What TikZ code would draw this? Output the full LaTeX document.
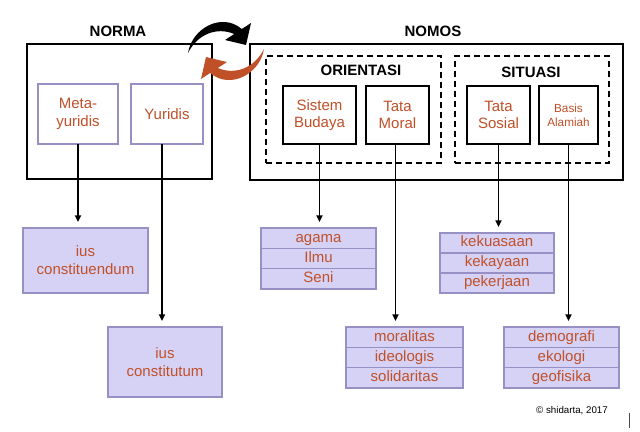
\documentclass[tikz,border=0pt]{standalone}
\usepackage{fontspec}
\setmainfont{Liberation Sans}
\usetikzlibrary{arrows.meta}
\definecolor{rust}{RGB}{192,80,40}
\definecolor{lavf}{RGB}{214,210,246}
\definecolor{lavb}{RGB}{150,144,196}
\newcommand{\lblfont}{\fontsize{11.25}{13.3}\selectfont}
\newcommand{\smlfont}{\fontsize{8.8}{10.5}\selectfont}
\newcommand{\ttlfont}{\fontsize{11.25}{13.3}\selectfont\bfseries}
\tikzset{
 wbox/.style={draw=lavb, fill=white, line width=0.9pt, text=rust, align=center, inner sep=0pt, outer sep=0pt, font=\lblfont, anchor=north west},
 kbox/.style={draw=black, fill=white, line width=1pt, text=rust, align=center, inner sep=0pt, outer sep=0pt, font=\lblfont, anchor=north west},
 pbox/.style={draw=lavb, fill=lavf, line width=1pt, text=rust, align=center, inner sep=0pt, outer sep=0pt, font=\lblfont, anchor=north west},
 rowbox/.style={pbox, text height=8.1pt, text depth=2.3pt},
 outerbox/.style={draw=black, line width=1pt, inner sep=0pt, outer sep=0pt, anchor=north west},
 dbox/.style={draw=black, line width=1pt, dash pattern=on 4.5pt off 3pt, inner sep=0pt, outer sep=0pt, anchor=north west},
 ttl/.style={font=\ttlfont, text=black},
 arr/.style={-{Triangle[length=5pt,width=4.5pt]}, line width=1.4pt, shorten >=4.5pt},
}
\begin{document}
\begin{tikzpicture}[x=0.75pt,y=-0.75pt]
\useasboundingbox (0,0) rectangle (640,432);
% outer boxes
\node[outerbox, minimum width=138.75pt, minimum height=101.25pt] (norma) at (27,44) {};
\node[outerbox, minimum width=279.75pt, minimum height=102pt] (nomos) at (250,44) {};
\node[dbox, minimum width=131.25pt, minimum height=80.25pt] (orient) at (266,56) {};
\node[dbox, minimum width=115.5pt, minimum height=80.25pt] (situasi) at (455,56) {};
% titles
\node[ttl] (tnorma) at (118,31) {NORMA};
\node[ttl] (tnomos) at (433,31) {NOMOS};
\node[ttl] (torient) at (361,70) {ORIENTASI};
\node[ttl] (tsituasi) at (531,72) {SITUASI};
% inner boxes
\node[wbox, minimum width=60pt, minimum height=45pt] (meta) at (38,84) {Meta-\\yuridis};
\node[wbox, minimum width=54pt, minimum height=45pt] (yur) at (131,84) {Yuridis};
\node[kbox, minimum width=54.75pt, minimum height=43.5pt] (sb) at (283,86) {Sistem\\Budaya};
\node[kbox, minimum width=47.25pt, minimum height=43.5pt] (tm) at (366,86) {Tata\\Moral};
\node[kbox, minimum width=47.25pt, minimum height=43.5pt] (ts) at (467,86) {Tata\\Sosial};
\node[kbox, minimum width=44.25pt, minimum height=43.5pt, font=\smlfont] (ba) at (539,86) {Basis\\Alamiah};
% lower boxes
\node[pbox, minimum width=93.75pt, minimum height=48.75pt] (iuscd) at (23,228) {ius\\constituendum};
\node[pbox, minimum width=85.5pt, minimum height=52.5pt] (iusct) at (108,327) {ius\\constitutum};
% lists
\node[rowbox, minimum width=86.25pt, minimum height=15.25pt] (agama) at (261,228) {agama};
\node[rowbox, minimum width=86.25pt, minimum height=15.25pt] (ilmu) at (agama.south west) {Ilmu};
\node[rowbox, minimum width=86.25pt, minimum height=15.25pt] (seni) at (ilmu.south west) {Seni};
\node[rowbox, minimum width=87.75pt, minimum height=15.25pt] (moral) at (346,327) {moralitas};
\node[rowbox, minimum width=87.75pt, minimum height=15.25pt] (ideo) at (moral.south west) {ideologis};
\node[rowbox, minimum width=87.75pt, minimum height=15.25pt] (soli) at (ideo.south west) {solidaritas};
\node[rowbox, minimum width=85.5pt, minimum height=15pt] (kuasa) at (440,233) {kekuasaan};
\node[rowbox, minimum width=85.5pt, minimum height=15pt] (kaya) at (kuasa.south west) {kekayaan};
\node[rowbox, minimum width=85.5pt, minimum height=15pt] (kerja) at (kaya.south west) {pekerjaan};
\node[rowbox, minimum width=86.25pt, minimum height=15.25pt] (demo) at (504,327) {demografi};
\node[rowbox, minimum width=86.25pt, minimum height=15.25pt] (eko) at (demo.south west) {ekologi};
\node[rowbox, minimum width=86.25pt, minimum height=15.25pt] (geo) at (eko.south west) {geofisika};
% arrows
\draw[arr] (meta.south) -- (meta.south |- iuscd.north);
\draw[arr] ([xshift=-3.75pt]yur.south) -- ([xshift=-3.75pt]yur.south |- iusct.north);
\draw[arr] (sb.south) -- (sb.south |- agama.north);
\draw[arr] ([xshift=-1.5pt]tm.south) -- ([xshift=-1.5pt]tm.south |- moral.north);
\draw[arr] (ts.south) -- (ts.south |- kuasa.north);
\draw[arr] (ba.south) -- (ba.south |- demo.north);
% curved arrows
\fill[black] (188,53) .. controls (192,28) and (222,12) .. (241.8,29) -- (251,23) -- (246,45) -- (225,40) -- (234.2,34) .. controls (218,27) and (198,33) .. cycle;
\begin{scope}[rotate around={180:(226,51)}]
\fill[rust] (188,53) .. controls (192,28) and (222,12) .. (241.8,29) -- (251,23) -- (246,45) -- (225,40) -- (234.2,34) .. controls (218,27) and (198,33) .. cycle;
\end{scope}
% copyright
\node[font=\fontsize{7.3}{9}\selectfont, text=black] (copy) at (572,411) {© shidarta, 2017};
\draw[line width=0.6pt, black!70] (629,413) -- (629,428);
\end{tikzpicture}
\end{document}
